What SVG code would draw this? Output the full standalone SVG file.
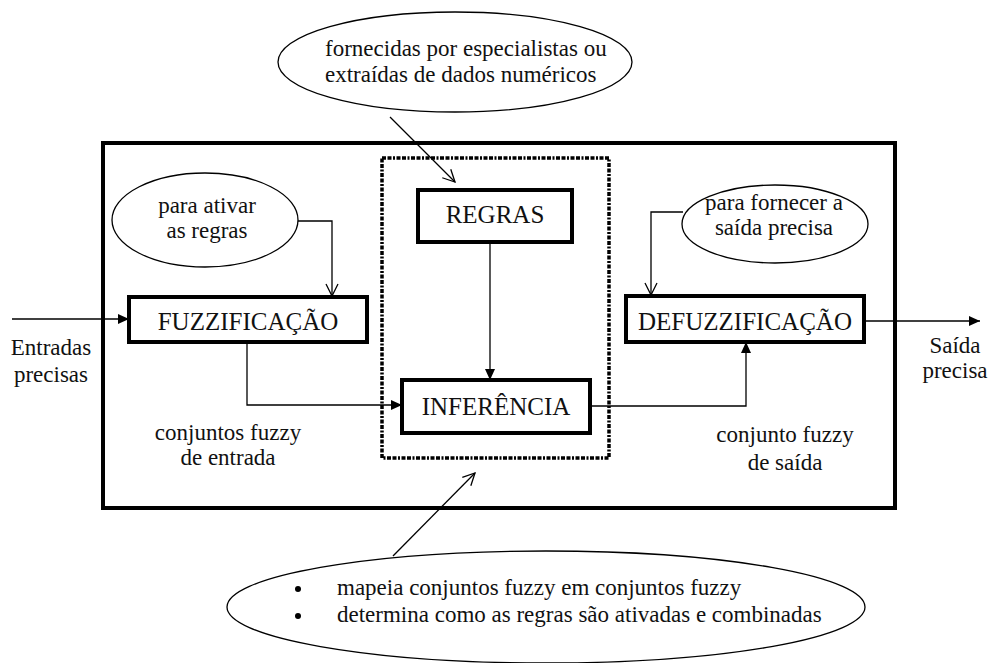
<svg xmlns="http://www.w3.org/2000/svg" width="992" height="663" viewBox="0 0 992 663">
<defs>
<style>
text{font-family:"Liberation Serif","Times New Roman",serif;fill:#111}
.lbl{font-size:25px;text-anchor:middle}
.sm{font-size:23px}
.mid{text-anchor:middle}
.box{fill:#fff;stroke:#000;stroke-width:4}
.ell{fill:#fff;stroke:#000;stroke-width:1.3}
.con{fill:none;stroke:#000;stroke-width:1.3}
</style>
<marker id="fa" markerUnits="userSpaceOnUse" markerWidth="12" markerHeight="10" refX="11" refY="5" orient="auto">
<path d="M0,0 L11,5 L0,10 z" fill="#000"/>
</marker>
<marker id="oa" markerUnits="userSpaceOnUse" markerWidth="14" markerHeight="14" refX="13" refY="7" orient="auto">
<path d="M1,1 L13,7 L1,13" fill="none" stroke="#000" stroke-width="1.3"/>
</marker>
</defs>
<rect width="992" height="663" fill="#fff"/>

<g id="sistema">
<rect x="103" y="143" width="792" height="365" fill="none" stroke="#000" stroke-width="4"/>
</g>
<g id="nucleo">
<rect x="382" y="158" width="227" height="300" fill="none" stroke="#000" stroke-width="3.5" stroke-dasharray="4 1.5 4 1.5 2 1.5"/>
</g>

<g id="connectors">
<line class="con" x1="12" y1="319" x2="129" y2="319" marker-end="url(#fa)"/>
<polyline class="con" points="298,221 332,221 332,296" marker-end="url(#oa)"/>
<polyline class="con" points="247,342 247,405 402,405" marker-end="url(#fa)"/>
<line class="con" x1="490" y1="242" x2="490" y2="380" marker-end="url(#fa)"/>
<polyline class="con" points="590,406 746,406 746,342" marker-end="url(#fa)"/>
<polyline class="con" points="683,212 651,212 651,295" marker-end="url(#oa)"/>
<line class="con" x1="864" y1="321" x2="980" y2="321" marker-end="url(#fa)"/>
<line class="con" x1="390" y1="117" x2="455" y2="182" marker-end="url(#oa)"/>
<line class="con" x1="393" y1="556" x2="475" y2="473" marker-end="url(#oa)"/>
</g>

<g id="fonte-regras">
<ellipse class="ell" cx="455" cy="62" rx="177" ry="50"/>
<text class="sm" x="325" y="56">fornecidas por especialistas ou</text>
<text class="sm" x="325" y="82">extraídas de dados numéricos</text>
</g>

<g id="nota-fuzz">
<ellipse class="ell" cx="205" cy="220" rx="93" ry="47"/>
<text class="sm mid" x="207" y="213">para ativar</text>
<text class="sm mid" x="207" y="238">as regras</text>
</g>

<g id="nota-defuzz">
<ellipse class="ell" cx="775" cy="224" rx="93" ry="39"/>
<text class="sm mid" x="774" y="210">para fornecer a</text>
<text class="sm mid" x="774" y="235">saída precisa</text>
</g>

<g id="fuzzificacao">
<rect class="box" x="129" y="297" width="238" height="45"/>
<text class="lbl" x="248" y="330">FUZZIFICAÇÃO</text>
</g>

<g id="regras">
<rect class="box" x="418" y="190" width="154" height="52"/>
<text class="lbl" x="495" y="223">REGRAS</text>
</g>

<g id="inferencia">
<rect class="box" x="402" y="380" width="188" height="53"/>
<text class="lbl" x="496" y="415">INFERÊNCIA</text>
</g>

<g id="defuzzificacao">
<rect class="box" x="626" y="296" width="238" height="46"/>
<text class="lbl" x="745" y="330">DEFUZZIFICAÇÃO</text>
</g>

<g id="entrada">
<text class="sm mid" x="51" y="355">Entradas</text>
<text class="sm mid" x="51" y="382">precisas</text>
</g>

<g id="saida">
<text class="sm mid" x="955" y="353">Saída</text>
<text class="sm mid" x="955" y="378">precisa</text>
</g>

<g id="rotulo-entrada">
<text class="sm mid" x="228" y="440">conjuntos fuzzy</text>
<text class="sm mid" x="228" y="465">de entrada</text>
</g>

<g id="rotulo-saida">
<text class="sm mid" x="785" y="442">conjunto fuzzy</text>
<text class="sm mid" x="785" y="470">de saída</text>
</g>

<g id="nota-inferencia">
<ellipse class="ell" cx="546" cy="607" rx="319" ry="56"/>
<circle cx="298" cy="589" r="3" fill="#000"/>
<circle cx="298" cy="616" r="3" fill="#000"/>
<text class="sm" x="337" y="595">mapeia conjuntos fuzzy em conjuntos fuzzy</text>
<text class="sm" x="337" y="622">determina como as regras são ativadas e combinadas</text>
</g>
</svg>
